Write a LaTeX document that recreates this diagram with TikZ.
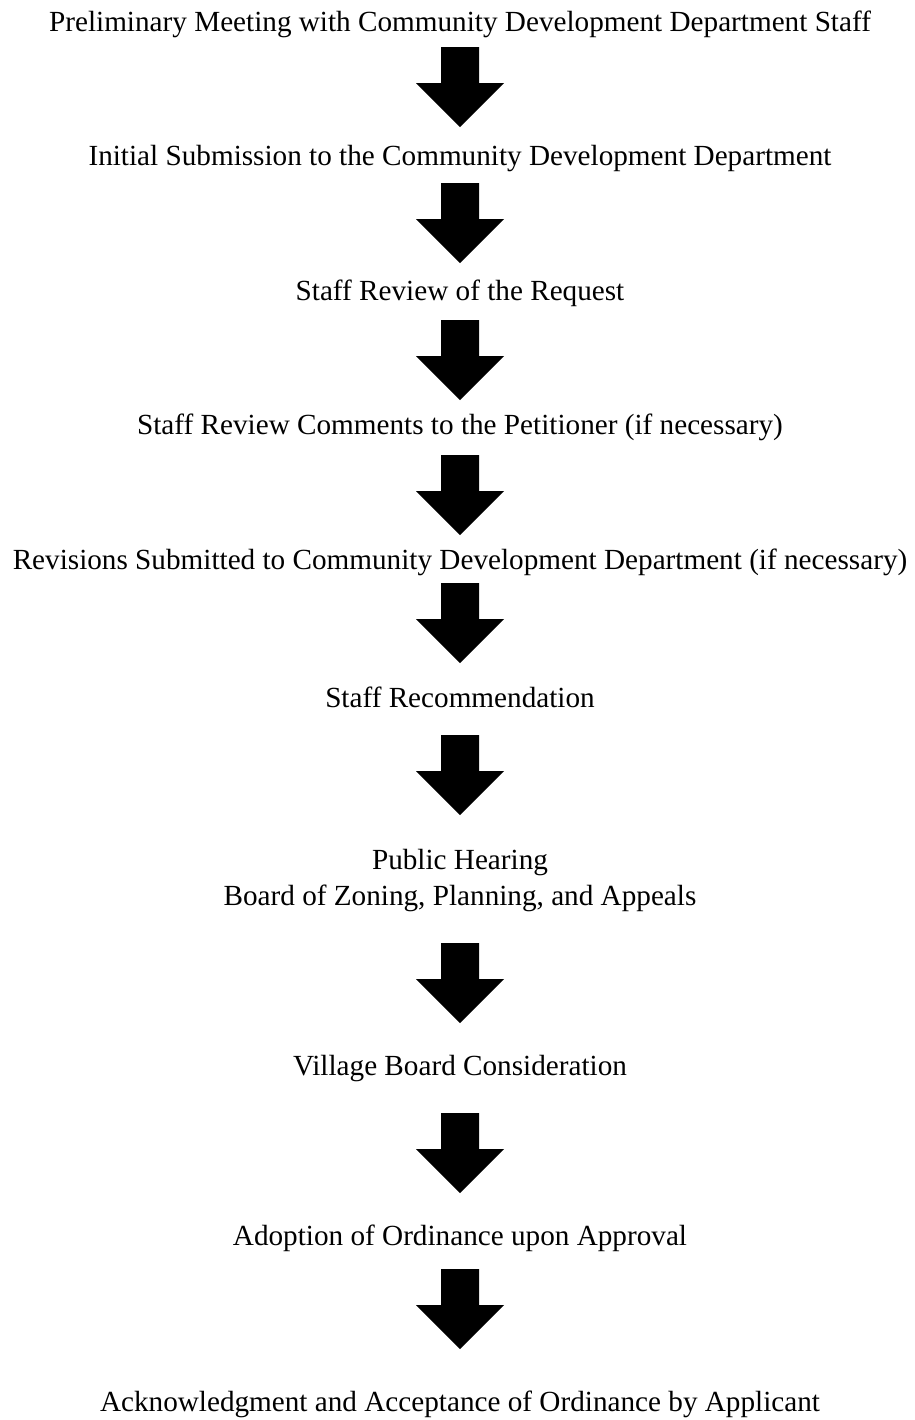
\documentclass[tikz,border=0pt]{standalone}
\usepackage{fontspec}
\setmainfont{Liberation Serif}
\usepackage{tikz}

\tikzset{
  steptext/.style={font=\fontsize{14.6}{18}\selectfont, align=center, inner sep=0pt},
  blockarrow/.style={fill=black}
}

\begin{document}
\begin{tikzpicture}[x=0.5pt, y=-0.5pt]
            \useasboundingbox (0,0) rectangle (915,1420);

            % Etapas
            \node[steptext] (meeting)   at (460,24)   {Preliminary Meeting with Community Development Department Staff};
            \node[steptext] (initial)   at (460,159)  {Initial Submission to the Community Development Department};
            \node[steptext] (review)    at (460,293)  {Staff Review of the Request};
            \node[steptext] (comments)  at (460,427)  {Staff Review Comments to the Petitioner (if necessary)};
            \node[steptext] (revisions) at (460,562)  {Revisions Submitted to Community Development Department (if necessary)};
            \node[steptext] (recommend) at (460,697)  {Staff Recommendation};
            \node[steptext] (hearing)   at (460,881)  {Public Hearing\\Board of Zoning, Planning, and Appeals};
            \node[steptext] (village)   at (460,1069) {Village Board Consideration};
            \node[steptext] (adoption)  at (460,1238) {Adoption of Ordinance upon Approval};
            \node[steptext] (accept)    at (460,1404) {Acknowledgment and Acceptance of Ordinance by Applicant};

            % Flechas de bloque
            \foreach \t in {47, 183, 320, 455, 583, 735, 943, 1113, 1269} {
                \fill[blockarrow] (441,\t) -- (479,\t) -- (479,\t+36) -- (504,\t+36)
                    -- (460,\t+80) -- (416,\t+36) -- (441,\t+36) -- cycle;
            }
        \end{tikzpicture}
\end{document}
